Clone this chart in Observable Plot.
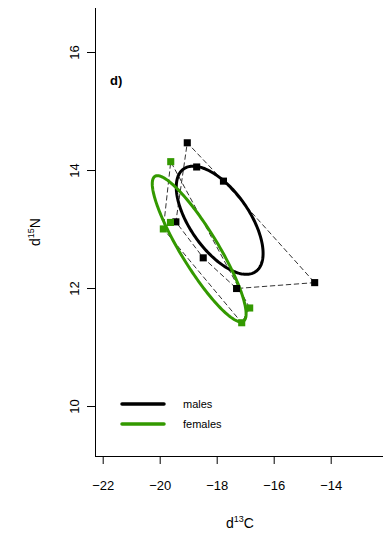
<!DOCTYPE html>
<html><head><meta charset="utf-8">
<script src="https://cdn.jsdelivr.net/npm/d3@7"></script>
<script src="https://cdn.jsdelivr.net/npm/@observablehq/plot@0.6"></script>
<style>body{margin:0;background:#fff;font-family:"Liberation Sans",Arial,sans-serif}</style>
</head><body><div id="chart"></div>
<script>
// data
const groups = ["males", "females"];
const colors = ["#000000", "#339900"];
const maleX = [-19.05, -18.72, -17.78, -19.45, -18.49, -17.32, -14.58];
const maleY = [14.47, 14.06, 13.82, 13.13, 12.52, 12.00, 12.10];
const femaleX = [-19.63, -19.64, -19.89, -16.86, -17.14];
const femaleY = [14.15, 13.12, 13.01, 11.67, 11.42];
// standard ellipse covariance
const ellSxx = [2.32, 2.71];
const ellSyy = [0.84, 1.534];
const ellSxy = [-0.855, -1.813];
const xTicks = [-22, -20, -18, -16, -14];
const yTicks = [10, 12, 14, 16];
const xDomain = [-22.27, -12.165];
const yDomain = [9.153, 16.746];

const xs = [maleX, femaleX], ys = [maleY, femaleY];
const pts = [], hulls = [], ells = [];
groups.forEach((g, i) => {
  const P = xs[i].map((x, j) => [x, ys[i][j]]);
  P.forEach(p => pts.push({g, x: p[0], y: p[1]}));
  const h = d3.polygonHull(P);
  h.concat([h[0]]).forEach(p => hulls.push({g, x: p[0], y: p[1]}));
  const mx = d3.mean(xs[i]), my = d3.mean(ys[i]);
  const a = ellSxx[i], b = ellSxy[i], c = ellSyy[i];
  const tr = a + c, det = a * c - b * b;
  const l1 = tr / 2 + Math.sqrt(tr * tr / 4 - det), l2 = tr / 2 - Math.sqrt(tr * tr / 4 - det);
  const th = Math.atan2(l1 - a, b);
  for (let k = 0; k <= 200; k++) {
    const t = 2 * Math.PI * k / 200;
    const u = Math.sqrt(l1) * Math.cos(t), v = Math.sqrt(l2) * Math.sin(t);
    ells.push({g, x: mx + u * Math.cos(th) - v * Math.sin(th), y: my + u * Math.sin(th) + v * Math.cos(th)});
  }
});

const cscale = {domain: groups, range: colors};
const chart = Plot.plot({
  width: 386, height: 533,
  marginLeft: 95, marginRight: 3, marginTop: 8, marginBottom: 77,
  style: {fontFamily: "Liberation Sans, Arial, sans-serif", fontSize: "13px", background: "white"},
  x: {domain: xDomain},
  y: {domain: yDomain},
  color: cscale,
  marks: [
    Plot.ruleX([xDomain[0]], {stroke: "black", strokeWidth: 1}),
    Plot.ruleY([yDomain[0]], {stroke: "black", strokeWidth: 1}),
    Plot.axisX({ticks: xTicks, tickSize: 8, tickPadding: 16, label: null, fontSize: 13}),
    Plot.axisY({ticks: yTicks, tickSize: 8, tickPadding: 9, tickRotate: -90, label: null, fontSize: 13}),
    Plot.line(hulls, {x: "x", y: "y", z: "g", stroke: "#333", strokeWidth: 1, strokeDasharray: "4.5,3.5"}),
    Plot.line(ells, {x: "x", y: "y", z: "g", stroke: "g", strokeWidth: 3}),
    Plot.dot(pts, {x: "x", y: "y", fill: "g", symbol: "square", r: 4})
  ]
});
document.getElementById("chart").appendChild(chart);
const svg = d3.select(chart);
// panel label
svg.append("text").attr("x", 110).attr("y", 85).attr("text-anchor", "start").attr("font-weight", "bold").attr("font-size", 13).text("d)");
// axis titles
const xt = svg.append("text").attr("x", 240).attr("y", 528).attr("text-anchor", "middle").attr("font-size", 14);
xt.append("tspan").text("d");
xt.append("tspan").attr("font-size", 9).attr("dy", -6).text("13");
xt.append("tspan").attr("dy", 6).text("C");
const yt = svg.append("text").attr("transform", "translate(40,232) rotate(-90)").attr("text-anchor", "middle").attr("font-size", 14);
yt.append("tspan").text("d");
yt.append("tspan").attr("font-size", 9).attr("dy", -6).text("15");
yt.append("tspan").attr("dy", 6).text("N");
// legend
groups.forEach((g, i) => {
  const y = 404 + i * 20;
  svg.append("line").attr("x1", 122).attr("x2", 164).attr("y1", y).attr("y2", y).attr("stroke", colors[i]).attr("stroke-width", 3.5).attr("stroke-linecap", "round");
  svg.append("text").attr("x", 183).attr("y", y + 4).attr("text-anchor", "start").attr("font-size", 11).text(g);
});
</script></body></html>
